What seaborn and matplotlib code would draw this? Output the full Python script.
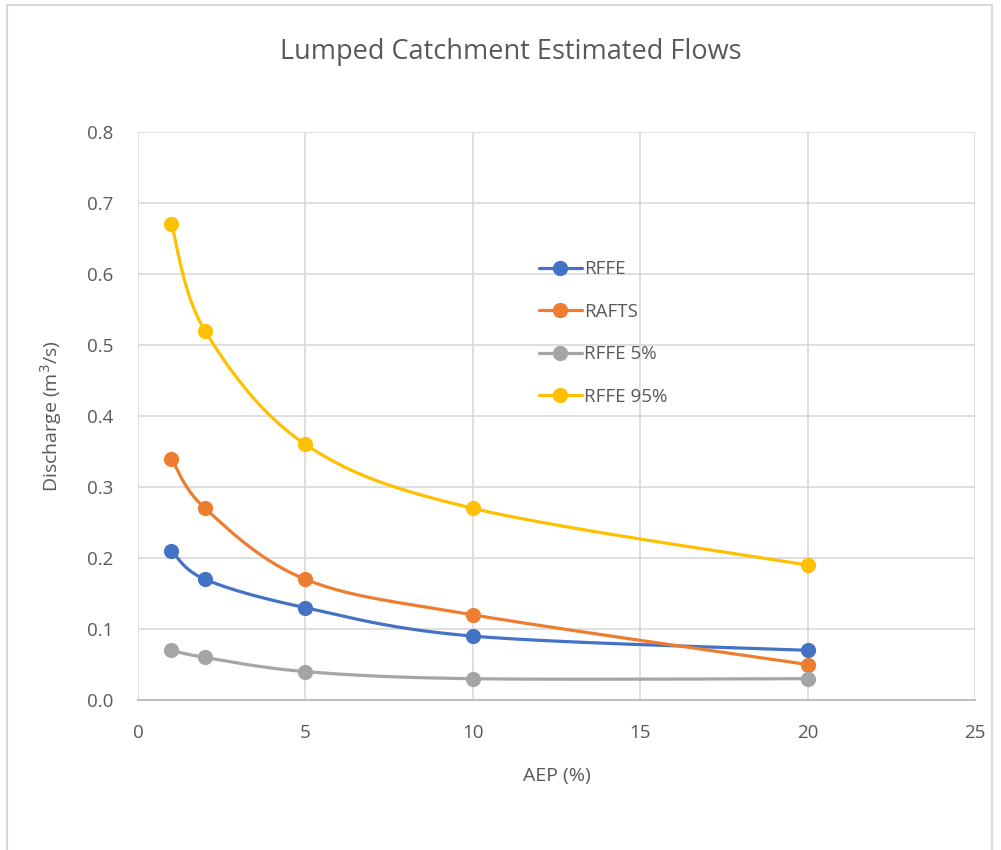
import numpy as np
import pandas as pd
import matplotlib
matplotlib.use("Agg")
import matplotlib.pyplot as plt
import seaborn as sns
from matplotlib.patches import Rectangle

aep = [1, 2, 5, 10, 20]
rffe = [0.21, 0.17, 0.13, 0.09, 0.07]
rafts = [0.34, 0.27, 0.17, 0.12, 0.05]
rffe5 = [0.07, 0.06, 0.04, 0.03, 0.03]
rffe95 = [0.67, 0.52, 0.36, 0.27, 0.19]
series_names = ["RFFE", "RAFTS", "RFFE 5%", "RFFE 95%"]
colors = ["#4472C4", "#ED7D31", "#A5A5A5", "#FFC000"]

sns.set_theme(style="white")
plt.rcParams['font.family'] = ['Open Sans', 'DejaVu Sans']

fig = plt.figure(figsize=(10.01, 8.5), dpi=100)
ax = fig.add_axes([138/1001, 150/850, (975-138)/1001, (700-132)/850])

# figure border
fig.patches.append(Rectangle((7/1001, -0.01), (992-7)/1001, (845+0.01*850)/850,
                             transform=fig.transFigure, fill=False,
                             edgecolor="#D9D9D9", linewidth=1.5))

XS, YS = 33.5, 710.0  # px per unit for smoothing in screen space

def smooth(xs, ys, n=40):
    P = np.column_stack([np.array(xs, float) * XS, np.array(ys, float) * YS])
    out = []
    m = len(P)
    for i in range(m - 1):
        p0 = P[i - 1] if i > 0 else P[i]
        p1 = P[i]
        p2 = P[i + 1]
        p3 = P[i + 2] if i + 2 < m else P[i + 1]
        c1 = p1 + (p2 - p0) / 6.0
        c2 = p2 - (p3 - p1) / 6.0
        t = np.linspace(0, 1, n)[:, None]
        seg = ((1 - t) ** 3) * p1 + 3 * ((1 - t) ** 2) * t * c1 + 3 * (1 - t) * t ** 2 * c2 + t ** 3 * p2
        if i > 0:
            seg = seg[1:]
        out.append(seg)
    out = np.vstack(out)
    return out[:, 0] / XS, out[:, 1] / YS

for name, vals, col in zip(series_names, [rffe, rafts, rffe5, rffe95], colors):
    sx, sy = smooth(aep, vals)
    df = pd.DataFrame({"x": sx, "y": sy})
    sns.lineplot(data=df, x="x", y="y", ax=ax, color=col, linewidth=2.3, sort=False,
                 estimator=None)
    dp = pd.DataFrame({"x": aep, "y": vals})
    sns.scatterplot(data=dp, x="x", y="y", ax=ax, color=col, s=120, edgecolor=col,
                    linewidth=0, zorder=5)
    ax.plot([], [], color=col, linewidth=2.3, marker="o", markersize=10, label=name)

ax.set_xlim(0, 25)
ax.set_ylim(0, 0.8)
ax.set_xticks([0, 5, 10, 15, 20, 25])
ax.set_yticks(np.arange(0, 0.81, 0.1))
ax.set_yticklabels([f"{v:.1f}" for v in np.arange(0, 0.81, 0.1)])
ax.grid(True, color="#D9D9D9", linewidth=1.2)
ax.set_axisbelow(True)
for s in ["top", "right", "left"]:
    ax.spines[s].set_visible(False)
ax.spines["bottom"].set_color("#BFBFBF")
ax.spines["bottom"].set_linewidth(1.5)
ax.tick_params(axis="both", length=0, labelsize=13.5, colors="#595959", pad=18)
ax.tick_params(axis="x", pad=17)

ax.set_xlabel("AEP (%)", fontsize=14, color="#595959", labelpad=18)
ax.set_ylabel("Discharge (m$^3$/s)", fontsize=14, color="#595959", labelpad=16)
fig.text(511/1001, 1 - 52/850, "Lumped Catchment Estimated Flows", ha="center", va="center",
         fontsize=19.5, color="#595959")

leg = ax.legend(loc="upper left", bbox_to_anchor=(393/837, 1 - 121/568), frameon=False,
                fontsize=13.5, labelspacing=1.3, handlelength=2.3, handletextpad=0.15,
                borderaxespad=0)
for t in leg.get_texts():
    t.set_color("#595959")

fig.savefig("out.png", dpi=100)
